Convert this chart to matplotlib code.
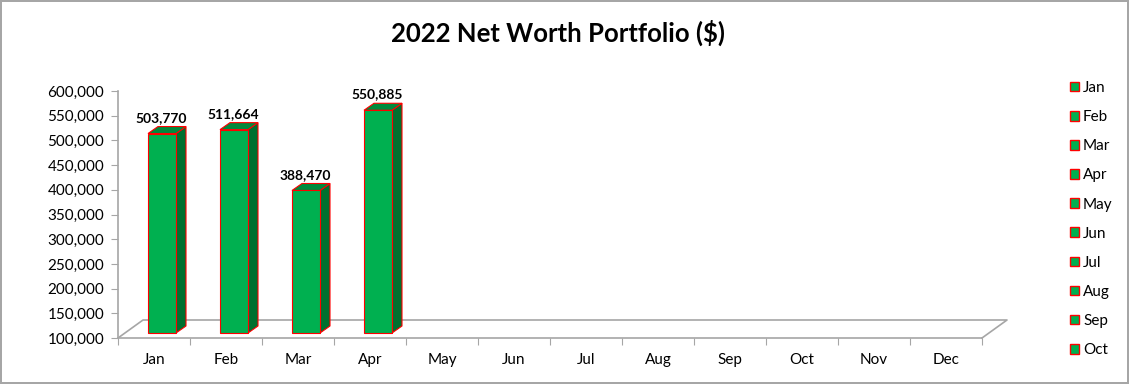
import numpy as np
import matplotlib.pyplot as plt
from matplotlib.patches import Polygon, Rectangle
from matplotlib.ticker import FuncFormatter
from matplotlib.transforms import offset_copy

plt.rcParams['font.family'] = ['Lato', 'DejaVu Sans']

# data
mesice = ["Jan", "Feb", "Mar", "Apr", "May", "Jun",
          "Jul", "Aug", "Sep", "Oct", "Nov", "Dec"]
hodnoty = [503770, 511664, 388470, 550885]
titulek = "2022 Net Worth Portfolio ($)"

# barvy
zelena = "#00b050"
bok = "#00702f"
vrch = "#008a3c"
okraj = "#ff0000"
seda = "#a6a6a6"

W, H = 1129, 384
fig = plt.figure(figsize=(W / 100, H / 100), dpi=100)
fig.patch.set_edgecolor(seda)
fig.patch.set_linewidth(1.5)

ax = fig.add_axes([118 / W, (H - 338) / H, 864 / W, 247 / H])
ax.set_xlim(0, 12)
ax.set_ylim(100000, 600000)

# px -> jednotky dat
px_x = 12 / 864
px_y = 500000 / 247

# posun sloupcu do hloubky a hloubka sloupce
posun = offset_copy(ax.transData, fig=fig, x=8, y=5, units="dots")
dx, dy = 10 * px_x, 7 * px_y
sirka = 28 * px_x

for i, v in enumerate(hodnoty):
    x0 = i + 0.5 - sirka / 2
    x1 = x0 + sirka
    dno = 100000
    ax.add_patch(Polygon([(x1, dno), (x1 + dx, dno + dy), (x1 + dx, v + dy), (x1, v)],
                         closed=True, facecolor=bok, edgecolor=okraj, linewidth=0.8,
                         transform=posun, zorder=3))
    ax.add_patch(Polygon([(x0, v), (x1, v), (x1 + dx, v + dy), (x0 + dx, v + dy)],
                         closed=True, facecolor=vrch, edgecolor=okraj, linewidth=0.8,
                         transform=posun, zorder=3))
    ax.add_patch(Rectangle((x0, dno), sirka, v - dno, facecolor=zelena,
                           edgecolor=okraj, linewidth=0.8, transform=posun, zorder=4))
    ax.annotate(f"{v:,}", xy=(i + 0.5 + dx / 2, v + dy), xycoords=posun,
                xytext=(-4, 2), textcoords="offset points", ha="center", va="bottom",
                fontsize=10, fontweight="bold", zorder=5)

# podlaha
fx, fy = 25 * px_x, 18 * px_y
podlaha = [(0, 100000), (fx, 100000 + fy), (12 + fx, 100000 + fy), (12, 100000)]
ax.plot(*zip(*podlaha), color=seda, linewidth=1.2, clip_on=False, zorder=2)

for s in ["top", "right"]:
    ax.spines[s].set_visible(False)
for s in ["left", "bottom"]:
    ax.spines[s].set_color(seda)
    ax.spines[s].set_linewidth(1.2)

ax.set_yticks(np.arange(100000, 600001, 50000))
ax.yaxis.set_major_formatter(FuncFormatter(lambda v, p: f"{v:,.0f}"))
ax.set_xticks(np.arange(13))
ax.set_xticklabels([])
ax.set_xticks(np.arange(12) + 0.5, minor=True)
ax.set_xticklabels(mesice, minor=True)
ax.tick_params(axis="x", which="major", length=5, color=seda)
ax.tick_params(axis="x", which="minor", length=0, pad=11, labelsize=11)
ax.tick_params(axis="y", length=5, color=seda, pad=5, labelsize=11)
ax.patch.set_alpha(0)

fig.text(558 / W, 1 - 33 / H, titulek, ha="center", va="center",
         fontsize=18.5, fontweight="bold")

# legenda - vejde se jen Jan..Oct jako v Excelu
legenda = mesice[:10]
handles = [Rectangle((0, 0), 1, 1, facecolor=zelena, edgecolor=okraj, linewidth=1)
           for _ in legenda]
fig.legend(handles, legenda, loc="upper left", bbox_to_anchor=(1070 / W, 1 - 81 / H),
           frameon=False, fontsize=11, handlelength=0.6, handleheight=0.6,
           handletextpad=0.25, labelspacing=0.99, borderaxespad=0, borderpad=0)

fig.savefig("out.png", dpi=100)
